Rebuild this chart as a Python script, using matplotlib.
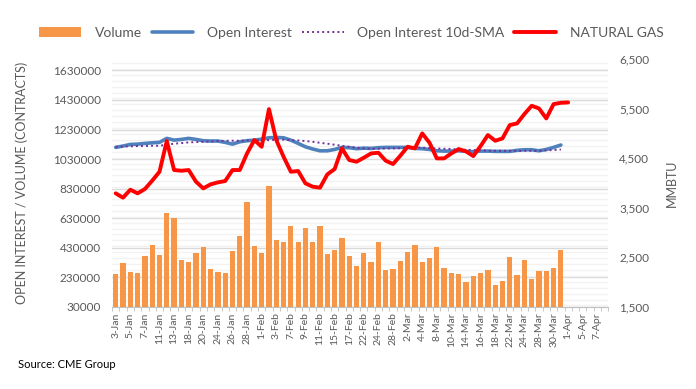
import numpy as np
import matplotlib.pyplot as plt
from matplotlib.ticker import MultipleLocator, FuncFormatter

plt.rcParams['font.family'] = ['Lato', 'DejaVu Sans']

# trading days shown on the category axis (data stops at 31-Mar / 1-Apr)
dates = ['3-Jan', '4-Jan', '5-Jan', '6-Jan', '7-Jan', '10-Jan', '11-Jan', '12-Jan', '13-Jan', '14-Jan',
         '18-Jan', '19-Jan', '20-Jan', '21-Jan', '24-Jan', '25-Jan', '26-Jan', '27-Jan', '28-Jan', '31-Jan',
         '1-Feb', '2-Feb', '3-Feb', '4-Feb', '7-Feb', '8-Feb', '9-Feb', '10-Feb', '11-Feb', '14-Feb',
         '15-Feb', '16-Feb', '17-Feb', '18-Feb', '22-Feb', '23-Feb', '24-Feb', '25-Feb', '28-Feb', '1-Mar',
         '2-Mar', '3-Mar', '4-Mar', '7-Mar', '8-Mar', '9-Mar', '10-Mar', '11-Mar', '14-Mar', '15-Mar',
         '16-Mar', '17-Mar', '18-Mar', '21-Mar', '22-Mar', '23-Mar', '24-Mar', '25-Mar', '28-Mar', '29-Mar',
         '30-Mar', '31-Mar', '1-Apr', '4-Apr', '5-Apr', '6-Apr', '7-Apr', '8-Apr']

volume = [251000, 325000, 264000, 258000, 372000, 447000, 379000, 663000, 629000, 345000,
          332000, 393000, 433000, 285000, 264000, 258000, 406000, 508000, 737000, 440000,
          393000, 845000, 480000, 467000, 575000, 467000, 562000, 467000, 575000, 386000,
          413000, 494000, 372000, 305000, 393000, 332000, 467000, 278000, 285000, 339000,
          399000, 447000, 332000, 359000, 433000, 291000, 258000, 251000, 197000, 237000,
          258000, 278000, 176000, 203000, 366000, 244000, 345000, 217000, 271000, 271000,
          291000, 413000]

open_interest = [1109000, 1118000, 1129000, 1131000, 1136000, 1140000, 1143000, 1170000, 1158000, 1163000,
                 1170000, 1163000, 1154000, 1152000, 1152000, 1143000, 1131000, 1147000, 1154000, 1158000,
                 1165000, 1174000, 1176000, 1174000, 1158000, 1136000, 1113000, 1098000, 1086000, 1086000,
                 1095000, 1109000, 1107000, 1100000, 1104000, 1102000, 1107000, 1109000, 1109000, 1109000,
                 1109000, 1102000, 1100000, 1095000, 1086000, 1084000, 1084000, 1086000, 1082000, 1080000,
                 1084000, 1084000, 1082000, 1082000, 1082000, 1089000, 1093000, 1093000, 1086000, 1095000,
                 1109000, 1125000]

oi_sma = [1113000, 1116000, 1116000, 1118000, 1118000, 1120000, 1120000, 1127000, 1134000, 1138000,
          1143000, 1145000, 1147000, 1149000, 1152000, 1154000, 1154000, 1154000, 1156000, 1156000,
          1158000, 1158000, 1161000, 1161000, 1158000, 1156000, 1152000, 1147000, 1140000, 1134000,
          1127000, 1120000, 1113000, 1107000, 1102000, 1100000, 1100000, 1102000, 1102000, 1104000,
          1107000, 1107000, 1107000, 1104000, 1102000, 1100000, 1098000, 1095000, 1093000, 1091000,
          1089000, 1086000, 1086000, 1086000, 1086000, 1086000, 1086000, 1086000, 1086000, 1089000,
          1091000, 1095000]

nat_gas = [3792, 3704, 3865, 3792, 3879, 4047, 4228, 4847, 4262, 4248,
           4262, 4027, 3892, 3973, 4013, 4040, 4262, 4262, 4598, 4867,
           4732, 5492, 4867, 4531, 4228, 4242, 3993, 3926, 3906, 4175,
           4282, 4699, 4464, 4430, 4511, 4598, 4611, 4450, 4383, 4551,
           4732, 4699, 5001, 4813, 4497, 4497, 4598, 4685, 4638, 4544,
           4746, 4968, 4853, 4900, 5169, 5203, 5391, 5559, 5505, 5303,
           5592, 5619, 5626]

grey = '#595959'

fig = plt.figure(figsize=(6.96, 3.89), dpi=100)
ax = fig.add_axes([0.161, 0.211, 0.713, 0.637])
ax2 = ax.twinx()

bars = ax.bar(np.arange(len(volume)), volume, width=0.72, color='#F79646', zorder=2)
oi_line, = ax.plot(np.arange(len(open_interest)), open_interest, color='#4F81BD', lw=2.6,
                   zorder=3, solid_capstyle='round')
sma_line, = ax.plot(np.arange(len(oi_sma)), oi_sma, color='#7030A0', lw=1.4, ls=(0, (1, 1.6)),
                    zorder=4)
gas_line, = ax2.plot(np.arange(len(nat_gas)), nat_gas, color='#FF0000', lw=2.8,
                     solid_joinstyle='round', solid_capstyle='round')

ax.set_xlim(-0.5, len(dates) - 0.5)
ax.set_ylim(30000, 1706000)
ax2.set_ylim(1500, 6500)

ax.yaxis.set_minor_locator(MultipleLocator(40000))
ax.set_yticks(np.arange(30000, 1630001, 200000))
ax.yaxis.set_major_formatter(FuncFormatter(lambda v, p: f'{int(v)}'))
ax.grid(axis='y', which='major', color='#D9D9D9', lw=1.0, zorder=0)
ax.grid(axis='y', which='minor', color='#F2F2F2', lw=1.0, zorder=0)
ax.set_axisbelow(True)

ax2.set_yticks(np.arange(1500, 6501, 1000))
ax2.yaxis.set_major_formatter(FuncFormatter(lambda v, p: f'{int(v):,}'))

ax.set_xticks(np.arange(0, len(dates), 2))
ax.set_xticklabels(dates[::2], rotation=90, fontsize=7.5, color=grey)
ax.set_xticks(np.arange(-0.5, len(dates), 1), minor=True)
ax.tick_params(axis='x', which='major', length=0, pad=4)
ax.tick_params(axis='x', which='minor', length=3, color='#BFBFBF')
ax.tick_params(axis='y', which='both', length=0, labelsize=8.5, labelcolor=grey, pad=8)
ax2.tick_params(axis='y', length=0, labelsize=8.5, labelcolor=grey, pad=8)

for a in (ax, ax2):
    for s in ('top', 'left', 'right'):
        a.spines[s].set_visible(False)
ax.spines['bottom'].set_color('#BFBFBF')
ax2.spines['bottom'].set_visible(False)

ax.set_ylabel('OPEN INTEREST / VOLUME (CONTRACTS)', fontsize=9, color=grey, labelpad=18)
ax2.set_ylabel('MMBTU', fontsize=9, color=grey, labelpad=12)

fig.legend([bars, oi_line, sma_line, gas_line],
           ['Volume', 'Open Interest', 'Open Interest 10d-SMA', 'NATURAL GAS'],
           loc='center', bbox_to_anchor=(0.505, 0.915), ncol=4, frameon=False,
           fontsize=10, labelcolor=grey, handlelength=3.0, columnspacing=0.7, handletextpad=1.0)

fig.text(0.026, 0.055, 'Source: CME Group', fontsize=8, color='black')

fig.savefig('out.png', dpi=100)
